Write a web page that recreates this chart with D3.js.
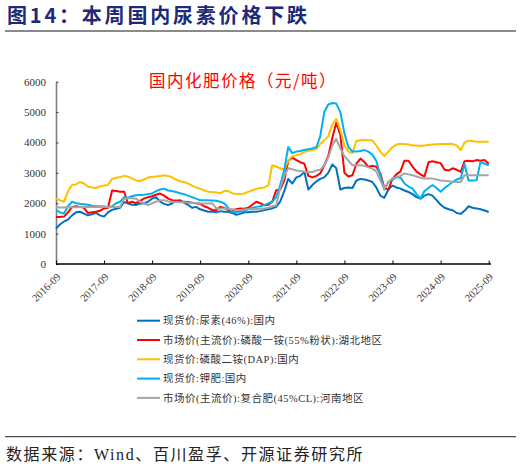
<!DOCTYPE html>
<html>
<head>
<meta charset="utf-8">
<script src="https://cdn.jsdelivr.net/npm/d3@7"></script>
<style>
  body { margin: 0; background: #fff; }
  svg { display: block; }
</style>
</head>
<body>
<div id="chart"></div>
<script>
// monthly readings, 2016-09 .. 2025-09 (yuan/ton)
const startMonth = new Date(2016, 8, 1);
const endMonth = new Date(2025, 9, 1);

const urea = [1170, 1300, 1400, 1460, 1600, 1700, 1720, 1660, 1600, 1640, 1680, 1600, 1560, 1700, 1780, 1820,
    1850, 2040, 2000, 1950, 1940, 2000, 1990, 2050, 2150, 2200, 2050, 1980, 1940, 2000, 2080, 2100,
    2020, 1950, 1850, 1880, 1800, 1760, 1720, 1730, 1700, 1740, 1720, 1720, 1680, 1620, 1650, 1700,
    1700, 1720, 1720, 1740, 1780, 1800, 1830, 1880, 2050, 2400, 2800, 2650, 2850, 2900, 3030, 2450,
    2600, 2720, 2800, 2850, 3000, 3280, 3150, 2450, 2500, 2520, 2500, 2750, 2800, 2780, 2750, 2700,
    2520, 2250, 2180, 2450, 2580, 2520, 2480, 2420, 2370, 2300, 2200, 2150, 2250, 2300, 2250, 2100,
    1950, 1850, 1800, 1770, 1680, 1650, 1750, 1900, 1850, 1830, 1800, 1760, 1710];

const mapHubei = [1550, 1550, 1560, 1700, 1880, 1900, 1880, 1850, 1680, 1700, 1720, 1750, 1830, 1850, 2420, 2400,
    2380, 2380, 2000, 2050, 2000, 2080, 2150, 2200, 2230, 2280, 2320, 2250, 2150, 2100, 2080, 2050,
    2050, 2040, 2020, 2000, 1980, 1900, 1850, 1780, 1770, 1880, 1850, 1780, 1770, 1800, 1830, 1820,
    1850, 1950, 2050, 2000, 1930, 1950, 2050, 2430, 2450, 2750, 3400, 3500, 3420, 3350, 3300, 2900,
    2850, 2900, 2980, 3250, 3550, 4150, 4650, 4250, 3000, 2880, 2920, 3300, 3470, 3350, 3200, 3230,
    3200, 2980, 2500, 2450, 2800, 2950, 3050, 3400, 3400, 3200, 3050, 2950, 2880, 3350, 3380, 3350,
    3320, 3100, 3080, 3150, 3100, 3030, 3380, 3400, 3380, 3420, 3400, 3420, 3300];

const dap = [2150, 2100, 2050, 2400, 2600, 2620, 2700, 2650, 2550, 2520, 2500, 2550, 2580, 2600, 2800, 2840,
    2860, 2900, 2880, 2820, 2750, 2730, 2780, 2850, 2870, 2880, 2900, 2920, 2900, 2850, 2780, 2720,
    2700, 2650, 2580, 2520, 2480, 2420, 2380, 2370, 2350, 2330, 2400, 2400, 2330, 2300, 2300, 2320,
    2380, 2420, 2470, 2500, 2520, 2600, 3250, 3200, 3150, 3100, 3400, 3550, 3580, 3620, 3680, 3730,
    3750, 3780, 3950, 4070, 4200, 4600, 4780, 4400, 3900, 3700, 3650, 4050, 4070, 4080, 4070, 4070,
    3900, 3700, 3550, 3700, 3850, 3930, 3960, 3950, 3930, 3900, 3900, 3880, 3900, 3920, 3930, 3940,
    3950, 3950, 3960, 3950, 3900, 3750, 4000, 4060, 4050, 4020, 4020, 4020, 4020];

const potash = [1770, 1700, 1660, 1900, 2050, 2000, 1980, 1970, 1950, 1920, 1900, 1900, 1890, 1880, 1900, 2000,
    2050, 2200, 2180, 2230, 2260, 2270, 2280, 2300, 2320, 2400, 2450, 2480, 2420, 2400, 2370, 2330,
    2300, 2250, 2200, 2150, 2100, 2100, 2100, 2090, 2080, 2050, 2000, 1850, 1720, 1710, 1720, 1760,
    1800, 1850, 1880, 1900, 1940, 2000, 2050, 2200, 2600, 3100, 3850, 3650, 3700, 3720, 3750, 3780,
    3800, 3850, 4200, 5000, 5250, 5300, 5280, 5000, 4300, 3850, 3700, 3700, 3720, 3750, 3700, 3600,
    3400, 2900, 2450, 2700, 2780, 2850, 2850, 2650, 2550, 2480, 2300, 2160, 2400, 2500, 2600, 2500,
    2380, 2500, 2600, 2700, 2780, 2820, 3300, 2750, 2750, 2760, 3360, 3300, 3250];

const compoundHenan = [1860, 1860, 1860, 1870, 1870, 1870, 1880, 1880, 1880, 1880, 1880, 1880, 1880, 1880, 1880, 1880,
    1880, 2150, 2160, 2160, 2150, 2050, 2000, 1940, 2000, 2050, 2100, 2100, 2060, 2050, 2040, 2030,
    2030, 2020, 2010, 2000, 1990, 1990, 1990, 2000, 1830, 1830, 1830, 1820, 1800, 1780, 1780, 1790,
    1800, 1800, 1810, 1820, 1830, 1850, 1900, 1930, 2500, 2900, 3150, 3120, 3080, 3060, 3040, 3030,
    3030, 3080, 3100, 3250, 3500, 3900, 4120, 3800, 3550, 3400, 3250, 3250, 3250, 3230, 3180, 3140,
    3050, 2750, 2480, 2700, 2820, 2860, 2900, 2980, 2950, 2920, 2880, 2840, 2810, 2810, 2810, 2780,
    2750, 2740, 2720, 2700, 2700, 2700, 2920, 2920, 2920, 2920, 2920, 2920, 2920];

const seriesNames = [
    '现货价:尿素(46%):国内',
    '市场价(主流价):磷酸一铵(55%粉状):湖北地区',
    '现货价:磷酸二铵(DAP):国内',
    '现货价:钾肥:国内',
    '市场价(主流价):复合肥(45%CL):河南地区'
];
const seriesValues = [urea, mapHubei, dap, potash, compoundHenan];
const seriesColors = ['#0070C0', '#FF0000', '#FFC000', '#00B0F0', '#A5A5A5'];

const yTicks = [0, 1000, 2000, 3000, 4000, 5000, 6000];
const xTickLabels = ['2016-09', '2017-09', '2018-09', '2019-09', '2020-09', '2021-09',
    '2022-09', '2023-09', '2024-09', '2025-09'];

const months = d3.timeMonth.range(startMonth, endMonth);
const parseYM = d3.timeParse('%Y-%m');

const width = 521, height = 467;
const svg = d3.select('#chart').append('svg')
    .attr('width', width).attr('height', height)
    .attr('viewBox', [0, 0, width, height]);

svg.append('rect').attr('width', width).attr('height', height).attr('fill', '#fff');

// header
svg.append('text')
    .attr('x', 7).attr('y', 23)
    .attr('font-family', '"Noto Sans CJK SC", sans-serif')
    .attr('font-weight', 'bold')
    .attr('font-size', 20)
    .attr('letter-spacing', 2.8)
    .attr('fill', '#1C2A78')
    .text('图14：本周国内尿素价格下跌');
svg.append('line')
    .attr('x1', 5).attr('x2', 516).attr('y1', 31).attr('y2', 31)
    .attr('stroke', '#8a8a8a').attr('stroke-width', 2);

const x = d3.scaleTime()
    .domain([parseYM('2016-09'), parseYM('2025-09')])
    .range([56, 488.7]);
const y = d3.scaleLinear()
    .domain([0, 6000])
    .range([264, 81.7]);

// chart title
svg.append('text')
    .attr('x', 243).attr('y', 87)
    .attr('text-anchor', 'middle')
    .attr('font-family', '"Noto Sans CJK SC", sans-serif')
    .attr('font-size', 16.5)
    .attr('letter-spacing', 1.5)
    .attr('fill', '#FF0000')
    .text('国内化肥价格（元/吨）');

// y axis
const yAxis = svg.append('g')
    .attr('transform', 'translate(56,0)')
    .call(d3.axisLeft(y).tickValues(yTicks).tickSizeInner(-2.5).tickSizeOuter(0).tickPadding(10).tickFormat(d3.format('d')));
yAxis.select('.domain').attr('stroke', '#7f7f7f').attr('stroke-width', 1.6);
yAxis.selectAll('.tick line').attr('stroke', '#404040');
yAxis.selectAll('text')
    .attr('font-family', '"Liberation Serif", serif')
    .attr('font-size', 11)
    .attr('fill', '#333');

// lines
const line = d3.line()
    .x((d, i) => x(months[i]))
    .y(d => y(d));

svg.append('g')
    .attr('fill', 'none')
    .attr('stroke-width', 2)
    .attr('stroke-linejoin', 'round')
    .selectAll('path')
    .data(seriesValues)
    .join('path')
    .attr('stroke', (d, i) => seriesColors[i])
    .attr('d', line);

// x axis
const xAxis = svg.append('g')
    .attr('transform', 'translate(0,264)')
    .call(d3.axisBottom(x)
        .tickValues(xTickLabels.map(parseYM))
        .tickSizeInner(-3.5).tickSizeOuter(0)
        .tickFormat(d3.timeFormat('%Y-%m')));
xAxis.select('.domain')
    .attr('d', `M56,0H491`)
    .attr('stroke', '#000').attr('stroke-width', 1.3);
xAxis.selectAll('.tick line').attr('stroke', '#000');
xAxis.selectAll('text')
    .attr('font-family', '"Liberation Serif", serif')
    .attr('font-size', 10.5)
    .attr('fill', '#333')
    .attr('text-anchor', 'end')
    .attr('x', 0).attr('y', 0).attr('dy', '0.35em')
    .attr('transform', 'translate(2,11) rotate(-45)');

// legend
const legend = svg.append('g')
    .selectAll('g')
    .data(seriesNames)
    .join('g')
    .attr('transform', (d, i) => `translate(137,${320.7 + i * 19.3})`);
legend.append('line')
    .attr('x1', 0).attr('x2', 23)
    .attr('stroke', (d, i) => seriesColors[i])
    .attr('stroke-width', 2);
legend.append('text')
    .attr('x', 26).attr('dy', '0.35em')
    .attr('font-family', '"Liberation Serif", "Noto Sans CJK SC", serif')
    .attr('font-size', 10.5)
    .attr('letter-spacing', 0.5)
    .attr('fill', '#333')
    .text(d => d);

// footer
svg.append('line')
    .attr('x1', 5).attr('x2', 516).attr('y1', 436.7).attr('y2', 436.7)
    .attr('stroke', '#222').attr('stroke-width', 1);
svg.append('text')
    .attr('x', 6).attr('y', 460)
    .attr('font-family', '"Liberation Serif", "Noto Sans CJK SC", serif')
    .attr('font-size', 16)
    .attr('letter-spacing', 1.6)
    .attr('fill', '#222')
    .text('数据来源：Wind、百川盈孚、开源证券研究所');
</script>
</body>
</html>
